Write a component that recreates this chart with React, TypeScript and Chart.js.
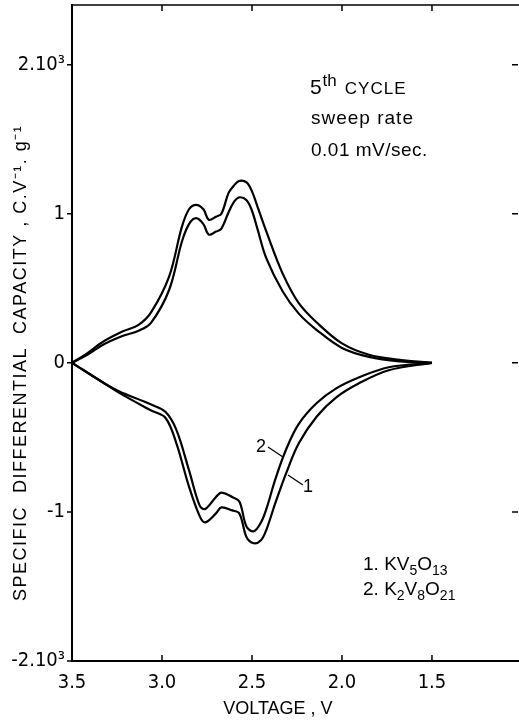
import React, { useEffect, useRef } from 'react';
import { Chart, registerables } from 'chart.js';

Chart.register(...registerables);

const NARROW = "'Liberation Sans Narrow', 'DejaVu Sans Condensed', 'Liberation Sans', sans-serif";
const SANS = "'Liberation Sans', Arial, sans-serif";

// Axis ticks
const xTickValues = [3.5, 3.0, 2.5, 2.0, 1.5];
const xTickLabels = ['3.5', '3.0', '2.5', '2.0', '1.5'];
const yTickValues = [-2, -1, 0, 1, 2];
const yTickLabels = ['-2.10³', '-1', '0', '1', '2.10³'];

// Curve 1 : KV5O13 (outer loop), capacity in 10^3 C.V-1.g-1
const anodicV1 = [3.5, 3.42, 3.33, 3.22, 3.13, 3.06, 2.96, 2.89, 2.85, 2.81, 2.77, 2.74, 2.70, 2.67, 2.63, 2.60, 2.57, 2.53, 2.50, 2.47, 2.42, 2.33, 2.24, 2.14, 2.0, 1.85, 1.68, 1.5];
const anodicC1 = [0, 0.06, 0.14, 0.21, 0.255, 0.34, 0.58, 0.91, 1.03, 1.06, 1.03, 0.96, 0.98, 1.0, 1.14, 1.19, 1.22, 1.21, 1.15, 1.05, 0.88, 0.6, 0.4, 0.27, 0.13, 0.054, 0.02, 0];
const cathodicV1 = [1.5, 1.74, 1.91, 2.03, 2.14, 2.24, 2.31, 2.37, 2.42, 2.45, 2.49, 2.53, 2.57, 2.61, 2.67, 2.70, 2.76, 2.79, 2.85, 2.92, 2.98, 3.06, 3.24, 3.33, 3.5];
const cathodicC1 = [0, -0.05, -0.14, -0.23, -0.36, -0.54, -0.74, -0.94, -1.12, -1.19, -1.21, -1.17, -1.01, -0.99, -0.97, -1.01, -1.07, -1.03, -0.83, -0.54, -0.37, -0.32, -0.2, -0.13, 0];

// Curve 2 : K2V8O21 (inner loop)
const anodicV2 = [3.5, 3.42, 3.33, 3.22, 3.13, 3.06, 2.96, 2.89, 2.85, 2.81, 2.77, 2.74, 2.70, 2.67, 2.63, 2.60, 2.57, 2.53, 2.50, 2.47, 2.42, 2.33, 2.24, 2.14, 2.0, 1.85, 1.68, 1.5];
const anodicC2 = [0, 0.05, 0.12, 0.18, 0.215, 0.27, 0.49, 0.81, 0.93, 0.97, 0.93, 0.86, 0.88, 0.9, 1.01, 1.08, 1.11, 1.09, 1.02, 0.9, 0.7, 0.48, 0.33, 0.22, 0.1, 0.04, 0.01, 0];
const cathodicV2 = [1.5, 1.74, 1.91, 2.03, 2.14, 2.24, 2.31, 2.37, 2.42, 2.45, 2.49, 2.53, 2.57, 2.61, 2.67, 2.70, 2.76, 2.79, 2.85, 2.92, 2.98, 3.06, 3.24, 3.33, 3.5];
const cathodicC2 = [0, -0.03, -0.1, -0.17, -0.27, -0.41, -0.58, -0.78, -0.98, -1.07, -1.13, -1.1, -0.93, -0.9, -0.87, -0.9, -0.98, -0.96, -0.72, -0.45, -0.33, -0.28, -0.19, -0.13, 0];

const toPoints = (v: number[], c: number[]) => v.map((vv, i) => ({ x: vv, y: c[i] }));

const line = (data: { x: number; y: number }[]) => ({
  data,
  borderColor: '#000',
  borderWidth: 2.2,
  pointRadius: 0,
  tension: 0.35,
  fill: false,
  clip: false as any,
});

const decorPlugin = {
  id: 'decor',
  afterDraw(chart: any) {
    const { ctx, chartArea: ca, scales } = chart;
    const x = scales.x;
    const y = scales.y;
    const px = (v: number) => x.getPixelForValue(v);
    const py = (c: number) => y.getPixelForValue(c);
    ctx.save();
    ctx.strokeStyle = '#000';
    ctx.fillStyle = '#000';
    ctx.lineWidth = 1.5;
    // top frame line
    ctx.beginPath();
    ctx.moveTo(ca.left, ca.top);
    ctx.lineTo(ca.right + 2, ca.top);
    ctx.stroke();
    // inner ticks top & bottom
    xTickValues.slice(1).forEach((v) => {
      const X = px(v);
      ctx.beginPath();
      ctx.moveTo(X, ca.top);
      ctx.lineTo(X, ca.top + 6);
      ctx.moveTo(X, ca.bottom);
      ctx.lineTo(X, ca.bottom - 6);
      ctx.stroke();
    });
    // right ticks (inward) and left ticks (outward)
    yTickValues.forEach((c) => {
      const Y = py(c);
      ctx.beginPath();
      if (c !== -2) {
        ctx.moveTo(ca.right - 6, Y);
        ctx.lineTo(ca.right, Y);
      }
      ctx.moveTo(ca.left - 5, Y);
      ctx.lineTo(ca.left, Y);
      ctx.stroke();
    });

    // Axis titles
    ctx.textBaseline = 'middle';
    ctx.textAlign = 'center';
    ctx.font = `18px ${SANS}`;
    ctx.fillText('VOLTAGE , V', px(2.356), ca.bottom + 48);
    ctx.save();
    ctx.translate(21, py(0));
    ctx.rotate(-Math.PI / 2);
    ctx.font = `18px ${SANS}`;
    (ctx as any).letterSpacing = '1.5px';
    ctx.fillText('SPECIFIC  DIFFERENTIAL  CAPACITY , C.V⁻¹. g⁻¹', 0, 0);
    ctx.restore();

    // Annotation text
    ctx.textAlign = 'left';
    ctx.textBaseline = 'alphabetic';
    let X = px(2.178);
    let Y = py(1.80);
    ctx.font = `21px ${SANS}`;
    ctx.fillText('5', X, Y);
    X += ctx.measureText('5').width + 1;
    ctx.font = `17px ${SANS}`;
    ctx.fillText('th', X, Y - 8);
    X += ctx.measureText('th').width + 8;
    ctx.font = `17px ${SANS}`;
    (ctx as any).letterSpacing = '1px';
    ctx.fillText('CYCLE', X, Y);
    ctx.font = `19px ${SANS}`;
    ctx.fillText('sweep rate', px(2.172), py(1.60));
    (ctx as any).letterSpacing = '0.5px';
    ctx.fillText('0.01 mV/sec.', px(2.172), py(1.387));
    (ctx as any).letterSpacing = '0px';

    // Legend with subscripts
    const drawFormula = (parts: [string, boolean][], v: number, c: number) => {
      let xx = px(v);
      const yy = py(c);
      parts.forEach(([t, sub]) => {
        ctx.font = sub ? `14px ${SANS}` : `19px ${SANS}`;
        ctx.fillText(t, xx, sub ? yy + 5 : yy);
        xx += ctx.measureText(t).width;
      });
    };
    drawFormula([['1. KV', false], ['5', true], ['O', false], ['13', true]], 1.883, -1.39);
    drawFormula([['2. K', false], ['2', true], ['V', false], ['8', true], ['O', false], ['21', true]], 1.883, -1.557);

    // Curve labels with leader lines
    ctx.font = `18px ${SANS}`;
    ctx.textAlign = 'center';
    ctx.textBaseline = 'middle';
    ctx.fillText('2', px(2.45), py(-0.565));
    ctx.fillText('1', px(2.189), py(-0.832));
    ctx.lineWidth = 1.3;
    ctx.beginPath();
    ctx.moveTo(px(2.411), py(-0.565));
    ctx.lineTo(px(2.328), py(-0.632));
    ctx.moveTo(px(2.30), py(-0.752));
    ctx.lineTo(px(2.217), py(-0.819));
    ctx.stroke();
    ctx.restore();
  },
};

export default function App() {
  const ref = useRef<HTMLCanvasElement>(null);
  useEffect(() => {
    const chart = new Chart(ref.current as HTMLCanvasElement, {
      type: 'line',
      data: {
        datasets: [
          line(toPoints(anodicV1, anodicC1)),
          line(toPoints(cathodicV1, cathodicC1)),
          line(toPoints(anodicV2, anodicC2)),
          line(toPoints(cathodicV2, cathodicC2)),
        ] as any,
      },
      options: {
        animation: false,
        responsive: false,
        devicePixelRatio: 1,
        layout: { padding: { top: 5, right: 1, left: 0, bottom: 0 } },
        plugins: { legend: { display: false }, tooltip: { enabled: false } },
        scales: {
          x: {
            type: 'linear',
            reverse: true,
            min: 1.022,
            max: 3.5,
            afterBuildTicks: (s: any) => {
              s.ticks = xTickValues.map((v) => ({ value: v }));
            },
            afterFit: (s: any) => {
              s.height = 64;
              s.paddingLeft = 0;
              s.paddingRight = 0;
            },
            ticks: {
              callback: (v: any) => xTickLabels[xTickValues.indexOf(Number(v))] ?? '',
              color: '#000',
              font: { family: NARROW, size: 20 },
              padding: 10,
              maxRotation: 0,
              autoSkip: false,
            },
            grid: { color: 'rgba(0,0,0,0)', drawTicks: false },
            border: { display: true, color: '#000', width: 2 },
          },
          y: {
            type: 'linear',
            min: -2,
            max: 2.4,
            afterBuildTicks: (s: any) => {
              s.ticks = yTickValues.map((v) => ({ value: v }));
            },
            afterFit: (s: any) => {
              s.width = 72;
              s.paddingTop = 0;
              s.paddingBottom = 0;
            },
            ticks: {
              callback: (v: any) => yTickLabels[yTickValues.indexOf(Number(v))] ?? '',
              color: '#000',
              font: { family: NARROW, size: 20 },
              padding: 7,
              autoSkip: false,
            },
            grid: { color: 'rgba(0,0,0,0)', drawTicks: false },
            border: { display: true, color: '#000', width: 2 },
          },
        },
      } as any,
      plugins: [decorPlugin],
    });
    return () => chart.destroy();
  }, []);
  return (
    <div style={{ position: 'absolute', left: 0, top: 0, width: 519, height: 725, background: '#fff' }}>
      <canvas ref={ref} width={519} height={725} style={{ width: 519, height: 725, display: 'block' }} />
    </div>
  );
}
